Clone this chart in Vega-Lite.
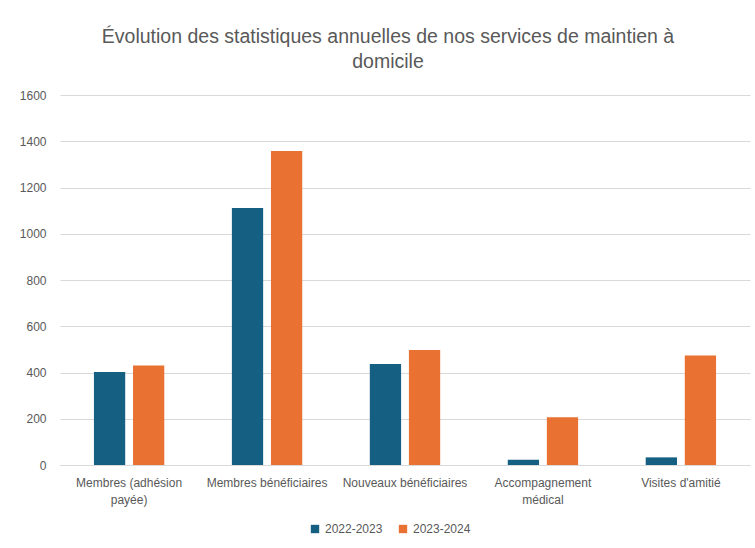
{
  "$schema": "https://vega.github.io/schema/vega-lite/v6.json",
  "width": 690,
  "height": 370,
  "autosize": {"type": "none"},
  "padding": {"left": 60, "top": 95, "right": 5, "bottom": 83},
  "background": "white",
  "title": {
    "text": ["Évolution des statistiques annuelles de nos services de maintien à", "domicile"],
    "anchor": "middle",
    "dx": -17,
    "offset": 17,
    "fontSize": 19.5,
    "fontWeight": "normal",
    "font": "Liberation Sans Narrow, Liberation Sans",
    "color": "#595959",
    "lineHeight": 25
  },
  "data": {
    "values": [
      {"categorie": "Membres (adhésion payée)", "annee": "2022-2023", "valeur": 402},
      {"categorie": "Membres (adhésion payée)", "annee": "2023-2024", "valeur": 430},
      {"categorie": "Membres bénéficiaires", "annee": "2022-2023", "valeur": 1111},
      {"categorie": "Membres bénéficiaires", "annee": "2023-2024", "valeur": 1358},
      {"categorie": "Nouveaux bénéficiaires", "annee": "2022-2023", "valeur": 437},
      {"categorie": "Nouveaux bénéficiaires", "annee": "2023-2024", "valeur": 497},
      {"categorie": "Accompagnement médical", "annee": "2022-2023", "valeur": 23},
      {"categorie": "Accompagnement médical", "annee": "2023-2024", "valeur": 207},
      {"categorie": "Visites d'amitié", "annee": "2022-2023", "valeur": 33},
      {"categorie": "Visites d'amitié", "annee": "2023-2024", "valeur": 473}
    ]
  },
  "mark": {"type": "bar"},
  "encoding": {
    "x": {
      "field": "categorie",
      "type": "nominal",
      "sort": null,
      "title": null,
      "scale": {"paddingInner": 0.49, "paddingOuter": 0.246},
      "axis": {
        "labelAngle": 0,
        "labelFontSize": 12,
        "labelColor": "#595959",
        "labelFont": "Liberation Sans Narrow, Liberation Sans",
        "labelPadding": 12,
        "labelLineHeight": 17,
        "ticks": false,
        "domainColor": "#d9d9d9",
        "domainWidth": 1,
        "labelExpr": "datum.label == 'Membres (adhésion payée)' ? ['Membres (adhésion', 'payée)'] : datum.label == 'Accompagnement médical' ? ['Accompagnement', 'médical'] : datum.label"
      }
    },
    "xOffset": {
      "field": "annee",
      "type": "nominal",
      "scale": {"paddingInner": 0.2, "paddingOuter": 0}
    },
    "y": {
      "field": "valeur",
      "type": "quantitative",
      "title": null,
      "scale": {"domain": [0, 1600]},
      "axis": {
        "values": [0, 200, 400, 600, 800, 1000, 1200, 1400, 1600],
        "format": "d",
        "labelFontSize": 12,
        "labelColor": "#595959",
        "labelFont": "Liberation Sans Narrow, Liberation Sans",
        "labelPadding": 14,
        "ticks": false,
        "domain": false,
        "gridColor": "#d9d9d9",
        "gridWidth": 1
      }
    },
    "color": {
      "field": "annee",
      "type": "nominal",
      "title": null,
      "scale": {"domain": ["2022-2023", "2023-2024"], "range": ["#156082", "#E97132"]},
      "legend": {
        "orient": "none",
        "legendX": 249,
        "legendY": 428,
        "direction": "horizontal",
        "symbolType": "square",
        "symbolSize": 70,
        "symbolStrokeWidth": 0,
        "labelFontSize": 12,
        "labelColor": "#595959",
        "labelFont": "Liberation Sans Narrow, Liberation Sans",
        "columnPadding": 14
      }
    }
  },
  "config": {
    "view": {"stroke": null}
  }
}
